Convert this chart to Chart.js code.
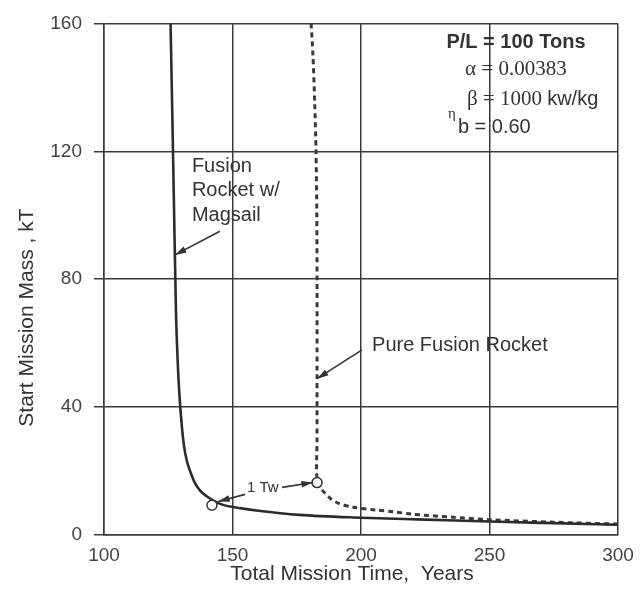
<!DOCTYPE html>
<html>
<head>
<meta charset="utf-8">
<script src="https://cdn.jsdelivr.net/npm/chart.js@4/dist/chart.umd.min.js"></script>
<style>
  html, body { margin: 0; padding: 0; background: #fff; }
  #wrap { width: 643px; height: 593px; }
</style>
</head>
<body>
<div id="wrap"><canvas id="chart"></canvas></div>
<script>
// axis ticks
const xTicks = [100, 150, 200, 250, 300];
const yTicks = [0, 40, 80, 120, 160];

// Fusion Rocket w/ Magsail (solid)
const magsailYears = [125.9, 126.5, 127.3, 128.0, 128.8, 129.5, 130.3, 131.2, 132.3, 133.6, 135.3, 137.4, 140.0, 142.4, 146.0, 152.9, 160.0, 176.0, 200.0, 225.0, 250.0, 275.0, 300.0];
const magsailMass  = [160, 135, 100, 70, 52, 42, 34, 27.5, 23, 19.8, 16.4, 13.9, 12.1, 10.8, 9.5, 8.4, 7.6, 6.3, 5.4, 4.8, 4.2, 3.7, 3.2];

// Pure Fusion Rocket (dashed)
const pureYears = [180.6, 181.3, 182.0, 182.5, 182.8, 182.9, 182.9, 182.9, 183.0, 185.5, 188.0, 191.0, 196.9, 206.0, 212.5, 220.0, 235.0, 250.0, 275.0, 300.0];
const pureMass  = [160, 150, 135, 120, 100, 80, 50, 30, 16.4, 13.5, 11.5, 10.0, 8.7, 7.8, 7.3, 6.5, 5.6, 4.8, 4.0, 3.4];

// open circles (1 Tw points)
const markerYears = [142.0, 182.9];
const markerMass  = [9.3, 16.4];

const ink = '#333';
const sans = '"Liberation Sans", Arial, sans-serif';
const serif = '"Liberation Serif", "Times New Roman", serif';

function pts(xs, ys) { return xs.map((x, i) => ({ x: x, y: ys[i] })); }

// text notes, placed in data units
const notes = [
  { parts: [['P/L = 100 Tons', 'bold 20px ' + sans]], x: 260.3, y: 153.9, align: 'center' },
  { parts: [['\u03b1 = 0.00383', '21px ' + serif]], x: 240.5, y: 145.5 },
  { parts: [['\u03b2 = 1000 ', '21px ' + serif], ['kw/kg', '20px ' + sans]], x: 241.2, y: 136.2 },
  { parts: [['\u03b7', '15px ' + serif]], x: 233.9, y: 131.5 },
  { parts: [['b = 0.60', '20px ' + sans]], x: 237.7, y: 127.6 },
  { parts: [['Fusion', '20px ' + sans]], x: 134.2, y: 115.2 },
  { parts: [['Rocket w/', '20px ' + sans]], x: 134.2, y: 107.7 },
  { parts: [['Magsail', '20px ' + sans]], x: 134.2, y: 100.0 },
  { parts: [['Pure Fusion Rocket', '20px ' + sans]], x: 204.3, y: 59.4 },
  { parts: [['1 Tw', '15px ' + sans]], x: 155.6, y: 14.6 }
];

const arrows = [
  [145.1, 95.0, 127.6, 87.6],
  [200.4, 57.9, 182.9, 48.9],
  [169.3, 14.9, 181.3, 16.4],
  [154.9, 12.7, 144.4, 10.5]
];

const notesPlugin = {
  id: 'notes',
  afterDraw(chart) {
    const { ctx, scales: { x, y } } = chart;
    ctx.save();
    ctx.fillStyle = ink;
    ctx.textBaseline = 'middle';
    notes.forEach(n => {
      let px = x.getPixelForValue(n.x);
      const py = y.getPixelForValue(n.y);
      if (n.align === 'center') {
        let w = 0;
        n.parts.forEach(p => { ctx.font = p[1]; w += ctx.measureText(p[0]).width; });
        px -= w / 2;
      }
      ctx.textAlign = 'left';
      n.parts.forEach(p => {
        ctx.font = p[1];
        ctx.fillText(p[0], px, py);
        px += ctx.measureText(p[0]).width;
      });
    });

    // arrows
    ctx.strokeStyle = ink;
    ctx.lineWidth = 1.6;
    arrows.forEach(a => {
      const x0 = x.getPixelForValue(a[0]), y0 = y.getPixelForValue(a[1]);
      const x1 = x.getPixelForValue(a[2]), y1 = y.getPixelForValue(a[3]);
      const ang = Math.atan2(y1 - y0, x1 - x0);
      ctx.beginPath();
      ctx.moveTo(x0, y0);
      ctx.lineTo(x1, y1);
      ctx.stroke();
      ctx.beginPath();
      ctx.moveTo(x1, y1);
      ctx.lineTo(x1 - 12 * Math.cos(ang - 0.28), y1 - 12 * Math.sin(ang - 0.28));
      ctx.lineTo(x1 - 12 * Math.cos(ang + 0.28), y1 - 12 * Math.sin(ang + 0.28));
      ctx.closePath();
      ctx.fill();
    });

    // axis titles
    ctx.font = '21px ' + sans;
    ctx.textAlign = 'center';
    ctx.fillText('Total Mission Time,  Years', x.getPixelForValue(196.5), 574);
    ctx.save();
    ctx.translate(27, y.getPixelForValue(68));
    ctx.rotate(-Math.PI / 2);
    ctx.fillText('Start Mission Mass , kT', 0, 0);
    ctx.restore();
    ctx.restore();
  }
};

new Chart(document.getElementById('chart'), {
  type: 'line',
  data: {
    datasets: [
      {
        label: 'markers',
        data: pts(markerYears, markerMass),
        showLine: false,
        pointRadius: 5,
        pointBackgroundColor: '#fff',
        pointBorderColor: ink,
        pointBorderWidth: 1.5,
        order: 0
      },
      {
        label: 'Fusion Rocket w/ Magsail',
        data: pts(magsailYears, magsailMass),
        borderColor: '#2b2b2b',
        borderWidth: 2.6,
        pointRadius: 0,
        cubicInterpolationMode: 'monotone',
        fill: false,
        order: 1
      },
      {
        label: 'Pure Fusion Rocket',
        data: pts(pureYears, pureMass),
        borderColor: '#3a3a3a',
        borderWidth: 3,
        borderDash: [5, 4],
        pointRadius: 0,
        tension: 0.3,
        fill: false,
        order: 2
      }
    ]
  },
  options: {
    responsive: true,
    maintainAspectRatio: false,
    animation: false,
    layout: { padding: { top: 18, right: 25, left: 0, bottom: 0 } },
    plugins: {
      legend: { display: false },
      tooltip: { enabled: false }
    },
    scales: {
      x: {
        type: 'linear',
        min: 100,
        max: 300,
        afterBuildTicks: s => { s.ticks = xTicks.map(v => ({ value: v })); },
        afterFit: s => { s.height = 58; },
        grid: { color: '#3a3a3a', lineWidth: 1.5, drawTicks: false },
        border: { color: '#3a3a3a', width: 1.5 },
        ticks: { padding: 9, color: '#444', font: { family: sans, size: 19 }, maxRotation: 0 }
      },
      y: {
        type: 'linear',
        min: 0,
        max: 160,
        afterBuildTicks: s => { s.ticks = yTicks.map(v => ({ value: v })); },
        afterFit: s => { s.width = 104; },
        grid: { color: '#3a3a3a', lineWidth: 1.5, drawTicks: true, tickLength: 10 },
        border: { color: '#3a3a3a', width: 1.5 },
        ticks: { padding: 12, color: '#444', font: { family: sans, size: 19 } }
      }
    }
  },
  plugins: [notesPlugin]
});
</script>
</body>
</html>
